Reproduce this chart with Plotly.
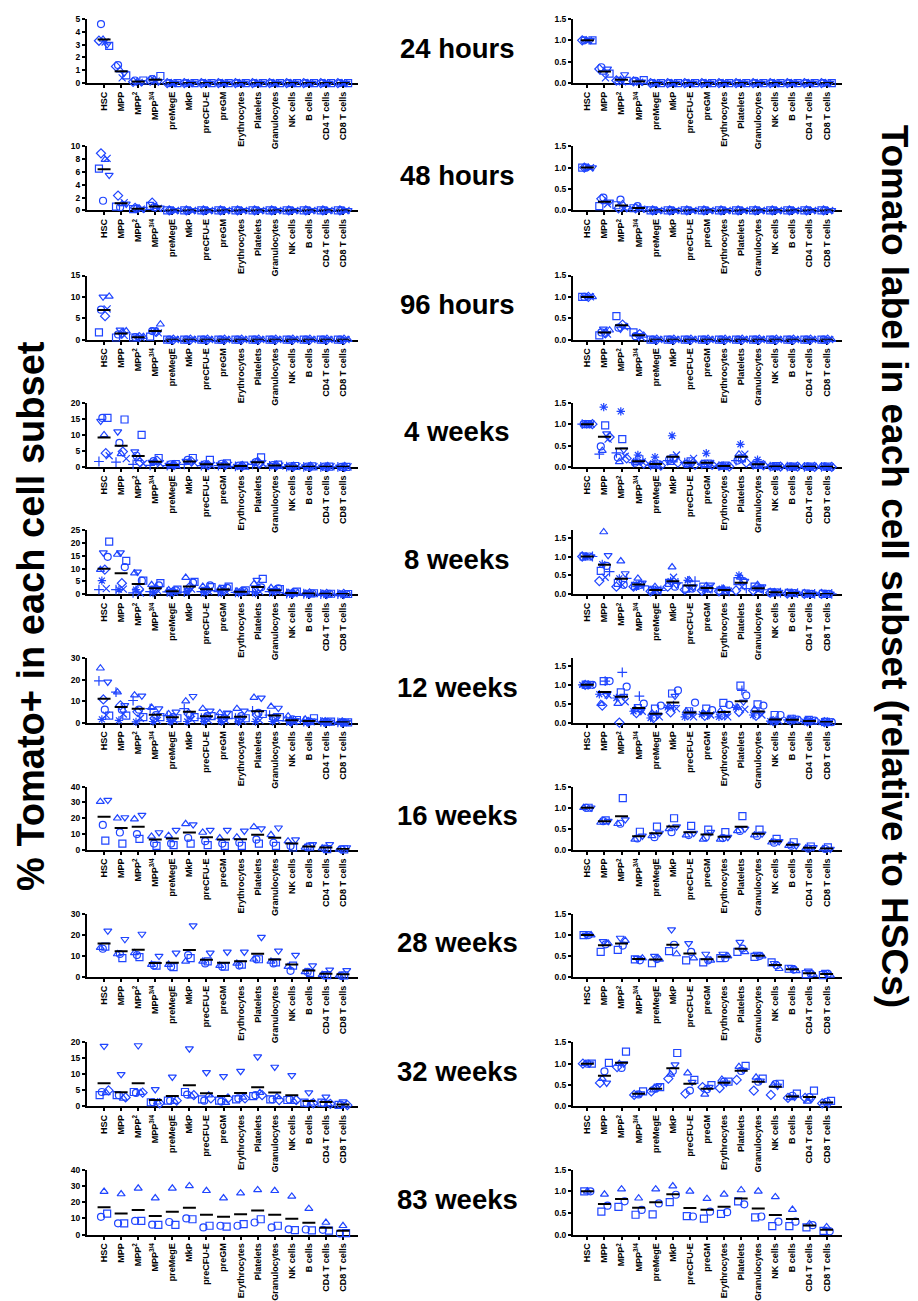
import plotly.graph_objects as go
import numpy as np

# ---------------- data ----------------
categories = ["HSC", "MPP", "MPP<sup>2</sup>", "MPP<sup>3/4</sup>", "preMegE", "MkP", "preCFU-E",
              "preGM", "Erythrocytes", "Platelets", "Granulocytes", "NK cells", "B cells",
              "CD4 T cells", "CD8 T cells"]
timepoints = ["24 hours", "48 hours", "96 hours", "4 weeks", "8 weeks", "12 weeks",
              "16 weeks", "28 weeks", "32 weeks", "83 weeks"]

Z11 = [0] * 11

# % Tomato+ (left column), one list per mouse, values per category
pct_24h = {
    "m5": [3.3, 1.3, 0.1, 0.2] + Z11,
    "m1": [4.6, 1.4, 0.2, 0.3] + Z11,
    "m3": [3.4, 1.0, 0.1, 0.3] + Z11,
    "m6": [3.2, 0.4, 0.05, 0.15] + Z11,
    "m4": [3.0, 0.8, 0.05, 0.1] + Z11,
    "m2": [2.9, 0.6, 0.2, 0.55] + Z11,
}
pct_48h = {
    "m2": [6.5, 0.6, 0.2, 0.7] + Z11,
    "m5": [8.9, 2.3, 0.4, 1.2] + Z11,
    "m1": [1.5, 0.5, 0.3, 0.5] + Z11,
    "m3": [7.9, 1.0, 0.3, 0.6] + Z11,
    "m6": [8.1, 1.2, 0.2, 0.3] + Z11,
    "m4": [5.5, 1.0, 0.2, 0.4] + Z11,
}
pct_96h = {
    "m2": [1.7, 0.5, 0.5, 0.7] + Z11,
    "m1": [7.0, 1.2, 0.6, 2.0] + Z11,
    "m4": [10.0, 2.3, 0.5, 2.3] + Z11,
    "m5": [5.5, 1.5, 0.6, 1.8] + Z11,
    "m6": [7.2, 1.0, 0.5, 1.6] + Z11,
    "m3": [10.1, 2.0, 0.7, 3.6] + Z11,
}
pct_4w = {
    "m7": [1.7, 1.5, 0.8, 0.5, 0.4, 0.8, 0.4, 0.4, 0.2, 0.8, 0.3, 0.1, 0.05, 0.02, 0.02],
    "m4": [14.3, 11.0, 4.8, 1.5, 0.6, 1.8, 0.7, 0.7, 0.3, 1.2, 0.5, 0.2, 0.1, 0.05, 0.05],
    "m1": [15.3, 7.5, 3.5, 1.8, 0.8, 2.2, 0.8, 1.0, 0.4, 1.5, 0.6, 0.2, 0.1, 0.1, 0.05],
    "m3": [10.0, 4.1, 2.5, 1.5, 0.7, 1.5, 0.9, 0.8, 0.3, 2.0, 0.5, 0.2, 0.1, 0.1, 0.05],
    "m5": [4.3, 4.8, 1.5, 2.0, 0.6, 1.8, 0.6, 0.6, 0.3, 1.0, 0.4, 0.1, 0.1, 0.05, 0.02],
    "m2": [15.3, 14.8, 10.0, 2.8, 0.9, 2.8, 2.2, 1.1, 0.4, 3.0, 0.7, 0.3, 0.2, 0.1, 0.05],
    "m6": [3.5, 2.6, 1.0, 1.0, 0.5, 1.2, 0.5, 0.5, 0.2, 1.0, 0.3, 0.1, 0.05, 0.05, 0.02],
}
pct_8w = {
    "m7": [1.8, 1.8, 0.5, 1.0, 0.9, 0.8, 1.0, 1.0, 0.7, 1.0, 1.0, 0.3, 0.2, 0.1, 0.05],
    "m3": [9.6, 15.5, 8.2, 3.7, 1.7, 6.5, 3.0, 2.2, 1.2, 4.0, 2.5, 0.6, 0.3, 0.2, 0.1],
    "m8": [5.3, 1.8, 1.8, 0.5, 0.5, 1.0, 0.6, 0.5, 0.5, 0.5, 0.8, 0.2, 0.1, 0.1, 0.05],
    "m4": [16.2, 16.2, 8.7, 2.5, 1.2, 1.5, 2.0, 2.8, 1.0, 5.5, 1.5, 0.5, 0.3, 0.2, 0.1],
    "m5": [9.6, 4.3, 2.0, 2.0, 1.0, 3.0, 1.5, 1.5, 1.0, 2.2, 1.5, 0.4, 0.3, 0.1, 0.1],
    "m6": [2.2, 2.0, 0.5, 1.5, 0.8, 2.0, 1.2, 1.2, 0.8, 1.0, 1.2, 0.3, 0.2, 0.1, 0.05],
    "m1": [14.6, 10.6, 5.3, 3.5, 1.5, 4.5, 3.5, 2.5, 1.2, 2.7, 2.3, 0.8, 0.3, 0.2, 0.1],
    "m2": [20.5, 13.0, 5.3, 4.3, 1.8, 4.8, 2.8, 3.0, 1.5, 6.0, 2.0, 1.0, 0.4, 0.2, 0.1],
}
pct_12w = {
    "m7": [19.5, 14.2, 10.3, 6.5, 3.2, 6.5, 2.0, 2.0, 2.0, 5.5, 3.5, 0.8, 0.5, 0.3, 0.1],
    "m3": [25.4, 14.2, 12.8, 7.0, 4.0, 10.0, 6.5, 4.5, 6.5, 11.7, 7.5, 3.0, 1.5, 0.5, 0.2],
    "m8": [1.5, 1.0, 0.3, 0.5, 0.5, 0.5, 0.5, 0.5, 0.3, 0.5, 0.5, 0.3, 0.2, 0.1, 0.05],
    "m5": [10.8, 8.0, 5.0, 2.0, 1.5, 4.0, 2.0, 1.5, 1.5, 3.5, 2.0, 0.5, 0.3, 0.2, 0.1],
    "m1": [6.0, 6.0, 6.0, 3.5, 2.5, 3.5, 3.0, 2.0, 3.0, 4.5, 2.5, 1.5, 0.5, 0.3, 0.1],
    "m6": [3.5, 4.0, 2.0, 1.0, 1.0, 1.5, 1.0, 1.0, 0.8, 1.0, 1.0, 0.5, 0.3, 0.2, 0.1],
    "m4": [19.0, 8.0, 12.5, 6.5, 5.0, 12.3, 5.5, 4.5, 5.5, 11.5, 6.8, 1.0, 0.8, 0.3, 0.1],
    "m2": [3.2, 3.2, 2.5, 2.5, 2.0, 2.5, 3.0, 3.5, 2.0, 4.0, 2.5, 1.2, 2.0, 0.4, 0.1],
}
pct_16w = {
    "m3": [30.5, 20.0, 19.5, 8.5, 9.0, 16.5, 11.0, 7.5, 8.0, 14.5, 9.5, 5.5, 1.5, 1.0, 0.3],
    "m1": [15.8, 11.0, 10.0, 4.0, 4.0, 7.5, 5.5, 4.0, 4.5, 6.5, 4.5, 2.5, 1.5, 0.8, 0.3],
    "m2": [5.8, 4.0, 7.0, 2.5, 3.0, 4.0, 3.0, 2.5, 2.5, 4.0, 2.5, 1.5, 2.0, 0.5, 0.3],
    "m4": [31.5, 20.5, 22.0, 11.0, 12.5, 16.0, 12.5, 12.5, 12.0, 13.5, 14.0, 6.5, 3.5, 3.5, 1.5],
}
pct_28w = {
    "m3": [14.0, 11.0, 11.5, 6.0, 6.0, 7.5, 7.5, 5.5, 6.5, 8.5, 7.5, 5.0, 2.5, 1.2, 0.8],
    "m1": [13.5, 11.0, 10.5, 5.5, 5.0, 10.5, 6.5, 5.0, 5.5, 8.5, 6.5, 3.0, 2.5, 0.8, 0.5],
    "m2": [14.5, 9.0, 9.5, 5.5, 4.8, 9.0, 7.5, 5.0, 6.0, 8.5, 7.0, 5.5, 2.0, 1.0, 0.8],
    "m4": [22.0, 18.0, 20.5, 10.0, 11.5, 24.5, 11.5, 12.0, 12.0, 19.0, 12.5, 10.5, 5.5, 3.5, 3.2],
}
pct_32w = {
    "m2": [3.5, 3.5, 4.5, 1.3, 1.8, 4.5, 2.2, 1.8, 2.2, 3.2, 2.2, 2.0, 1.2, 1.2, 0.5],
    "m1": [4.5, 3.5, 4.2, 1.3, 1.8, 3.7, 1.8, 1.5, 2.5, 3.5, 2.2, 2.2, 1.0, 1.0, 0.5],
    "m4": [18.8, 10.0, 19.0, 5.3, 9.2, 18.0, 10.6, 9.4, 11.0, 15.5, 12.3, 9.7, 4.3, 3.0, 1.5],
    "m3": [4.2, 2.5, 4.3, 1.3, 1.5, 3.2, 3.5, 1.2, 2.8, 4.3, 3.0, 1.5, 1.0, 0.8, 0.3],
    "m5": [5.0, 2.8, 4.3, 1.0, 1.8, 3.5, 2.5, 2.5, 2.5, 3.5, 2.0, 2.0, 1.0, 0.8, 0.4],
}
pct_83w = {
    "m1": [11.0, 7.0, 8.5, 6.2, 7.8, 10.0, 4.5, 5.5, 5.5, 7.5, 4.5, 3.3, 3.2, 3.0, 0.8],
    "m3": [26.5, 25.0, 28.5, 22.5, 28.5, 30.0, 27.0, 22.5, 25.5, 27.5, 27.0, 23.5, 16.0, 7.5, 5.5],
    "m2": [13.0, 7.0, 8.5, 6.0, 6.0, 9.5, 5.5, 5.0, 6.5, 9.5, 5.5, 2.8, 2.7, 2.5, 1.0],
}

# Tomato label relative to HSCs (right column)
rel_24h = {
    "m5": [1, 0.33, 0.06, 0.04] + Z11,
    "m1": [1, 0.37, 0.05, 0.05] + Z11,
    "m3": [1, 0.25, 0.08, 0.03] + Z11,
    "m6": [1, 0.12, 0.03, 0.02] + Z11,
    "m4": [1, 0.33, 0.2, 0.03] + Z11,
    "m2": [1, 0.22, 0.05, 0.07] + Z11,
}
rel_48h = {
    "m2": [1, 0.1, 0.12, 0.05] + Z11,
    "m5": [1, 0.27, 0.05, 0.05] + Z11,
    "m1": [1, 0.3, 0.25, 0.1] + Z11,
    "m3": [1, 0.2, 0.15, 0.05] + Z11,
    "m6": [1, 0.15, 0.05, 0.03] + Z11,
    "m4": [1, 0.2, 0.05, 0.04] + Z11,
}
rel_96h = {
    "m2": [1, 0.1, 0.55, 0.17] + Z11,
    "m1": [1, 0.17, 0.28, 0.08] + Z11,
    "m4": [1, 0.25, 0.25, 0.1] + Z11,
    "m5": [1, 0.15, 0.35, 0.13] + Z11,
    "m6": [1, 0.13, 0.3, 0.05] + Z11,
    "m3": [1, 0.22, 0.3, 0.1] + Z11,
}
rel_4w = {
    "m7": [1, 0.3, 0.33, 0.1, 0.04, 0.15, 0.1, 0.06, 0.02, 0.15, 0.05, 0.01, 0.01, 0.0, 0.0],
    "m1": [1, 0.48, 0.22, 0.1, 0.05, 0.17, 0.07, 0.07, 0.02, 0.15, 0.05, 0.01, 0.01, 0.01, 0.01],
    "m3": [1, 0.38, 0.12, 0.1, 0.05, 0.1, 0.05, 0.05, 0.02, 0.3, 0.04, 0.01, 0.01, 0.01, 0.01],
    "m8": [1, 1.4, 1.3, 0.28, 0.23, 0.73, 0.1, 0.32, 0.03, 0.53, 0.17, 0.02, 0.01, 0.01, 0.01],
    "m2": [1, 0.97, 0.65, 0.18, 0.06, 0.2, 0.13, 0.08, 0.03, 0.2, 0.05, 0.02, 0.01, 0.01, 0.01],
    "m4": [1, 0.78, 0.4, 0.12, 0.05, 0.2, 0.08, 0.06, 0.02, 0.2, 0.05, 0.01, 0.01, 0.01, 0.01],
    "m6": [1, 0.65, 0.25, 0.12, 0.05, 0.28, 0.2, 0.08, 0.02, 0.3, 0.06, 0.01, 0.01, 0.01, 0.0],
    "m5": [1, 0.7, 0.2, 0.08, 0.03, 0.1, 0.05, 0.05, 0.01, 0.1, 0.04, 0.01, 0.01, 0.0, 0.0],
}
rel_8w = {
    "m5": [1, 0.35, 0.2, 0.2, 0.08, 0.2, 0.12, 0.1, 0.08, 0.1, 0.1, 0.04, 0.02, 0.01, 0.01],
    "m2": [1, 0.62, 0.3, 0.22, 0.12, 0.3, 0.15, 0.2, 0.1, 0.35, 0.2, 0.05, 0.04, 0.02, 0.01],
    "m8": [1, 0.8, 0.42, 0.2, 0.1, 0.35, 0.37, 0.12, 0.15, 0.5, 0.15, 0.05, 0.03, 0.01, 0.01],
    "m3": [1, 1.65, 0.88, 0.42, 0.2, 0.72, 0.38, 0.22, 0.15, 0.45, 0.25, 0.06, 0.04, 0.01, 0.01],
    "m6": [1, 0.45, 0.25, 0.25, 0.1, 0.45, 0.15, 0.12, 0.1, 0.2, 0.12, 0.05, 0.03, 0.01, 0.01],
    "m1": [1, 0.75, 0.25, 0.25, 0.1, 0.2, 0.15, 0.15, 0.1, 0.35, 0.15, 0.05, 0.03, 0.01, 0.01],
    "m4": [1, 1.03, 0.55, 0.3, 0.12, 0.25, 0.2, 0.25, 0.12, 0.35, 0.2, 0.06, 0.03, 0.01, 0.01],
    "m7": [1, 0.6, 0.42, 0.22, 0.1, 0.3, 0.35, 0.15, 0.08, 0.15, 0.12, 0.04, 0.03, 0.01, 0.01],
}
rel_12w = {
    "m8": [1, 0.75, 0.65, 0.3, 0.12, 0.4, 0.15, 0.22, 0.15, 0.4, 0.2, 0.04, 0.07, 0.03, 0.01],
    "m3": [1, 0.5, 0.5, 0.35, 0.25, 0.42, 0.3, 0.25, 0.3, 0.4, 0.35, 0.05, 0.08, 0.05, 0.01],
    "m5": [1, 0.45, 0.0, 0.25, 0.12, 0.27, 0.2, 0.18, 0.2, 0.28, 0.18, 0.04, 0.06, 0.03, 0.01],
    "m2": [1, 1.1, 0.8, 0.38, 0.37, 0.77, 0.3, 0.37, 0.52, 0.98, 0.48, 0.2, 0.1, 0.07, 0.02],
    "m7": [1, 1.1, 1.33, 0.7, 0.2, 0.45, 0.25, 0.2, 0.2, 0.85, 0.25, 0.05, 0.08, 0.04, 0.01],
    "m4": [1, 0.72, 0.7, 0.3, 0.2, 0.7, 0.25, 0.2, 0.25, 0.55, 0.25, 0.05, 0.07, 0.04, 0.01],
    "m6": [1, 0.73, 0.55, 0.3, 0.15, 0.37, 0.15, 0.2, 0.15, 0.35, 0.2, 0.04, 0.07, 0.04, 0.01],
    "m1": [1, 1.1, 0.95, 0.5, 0.45, 0.85, 0.53, 0.33, 0.47, 0.72, 0.45, 0.2, 0.08, 0.05, 0.01],
}
rel_16w = {
    "m3": [1, 0.65, 0.62, 0.25, 0.33, 0.5, 0.35, 0.25, 0.25, 0.45, 0.35, 0.18, 0.1, 0.04, 0.02],
    "m1": [1, 0.68, 0.62, 0.27, 0.3, 0.42, 0.35, 0.3, 0.28, 0.45, 0.33, 0.17, 0.1, 0.03, 0.02],
    "m2": [1, 0.7, 1.23, 0.43, 0.55, 0.75, 0.57, 0.48, 0.42, 0.8, 0.48, 0.26, 0.18, 0.08, 0.06],
    "m4": [1, 0.68, 0.72, 0.33, 0.4, 0.55, 0.4, 0.42, 0.3, 0.5, 0.38, 0.2, 0.1, 0.06, 0.02],
}
rel_28w = {
    "m2": [1, 0.6, 0.65, 0.42, 0.33, 0.62, 0.4, 0.35, 0.45, 0.6, 0.48, 0.35, 0.2, 0.07, 0.05],
    "m4": [1, 0.85, 0.93, 0.45, 0.5, 1.13, 0.8, 0.55, 0.55, 0.83, 0.55, 0.33, 0.23, 0.15, 0.12],
    "m1": [1, 0.78, 0.75, 0.4, 0.43, 0.77, 0.6, 0.4, 0.45, 0.68, 0.5, 0.28, 0.18, 0.08, 0.08],
    "m3": [1, 0.8, 0.87, 0.45, 0.42, 0.55, 0.45, 0.4, 0.5, 0.6, 0.5, 0.2, 0.15, 0.06, 0.04],
}
rel_32w = {
    "m5": [1, 0.55, 0.92, 0.27, 0.35, 0.65, 0.3, 0.45, 0.43, 0.62, 0.37, 0.27, 0.2, 0.2, 0.07],
    "m3": [1, 0.65, 1.0, 0.27, 0.38, 0.75, 0.78, 0.28, 0.63, 0.93, 0.68, 0.5, 0.2, 0.12, 0.08],
    "m1": [1, 0.82, 0.9, 0.28, 0.42, 0.83, 0.37, 0.4, 0.58, 0.83, 0.58, 0.52, 0.25, 0.22, 0.11],
    "m4": [1, 0.55, 1.0, 0.3, 0.48, 0.98, 0.57, 0.45, 0.55, 0.85, 0.6, 0.48, 0.22, 0.18, 0.06],
    "m2": [1, 1.02, 1.28, 0.35, 0.45, 1.25, 0.62, 0.5, 0.58, 0.95, 0.65, 0.53, 0.3, 0.37, 0.13],
}
rel_83w = {
    "m2": [1, 0.53, 0.64, 0.46, 0.47, 0.75, 0.43, 0.37, 0.48, 0.77, 0.4, 0.2, 0.2, 0.17, 0.09],
    "m3": [1, 0.93, 1.05, 0.84, 1.05, 1.12, 1.0, 0.83, 0.93, 1.03, 1.0, 0.87, 0.58, 0.25, 0.18],
    "m1": [1, 0.67, 0.77, 0.57, 0.72, 0.92, 0.42, 0.53, 0.52, 0.7, 0.42, 0.3, 0.3, 0.22, 0.08],
}

left_panels = [pct_24h, pct_48h, pct_96h, pct_4w, pct_8w, pct_12w, pct_16w, pct_28w, pct_32w, pct_83w]
right_panels = [rel_24h, rel_48h, rel_96h, rel_4w, rel_8w, rel_12w, rel_16w, rel_28w, rel_32w, rel_83w]

left_ymax = [5, 10, 15, 20, 25, 30, 40, 30, 20, 40]
left_ytick_step = [1, 2, 5, 5, 5, 10, 10, 10, 5, 10]
right_ymax = [1.5, 1.5, 1.5, 1.5, 1.7, 1.7, 1.5, 1.5, 1.5, 1.5]
right_yticks = [0, 0.5, 1.0, 1.5]

# ---------------- style ----------------
PAGE_OFF = 8                     # default body margin of the html page
W, H = 918 - PAGE_OFF, 1301 - PAGE_OFF
BLUE = "#1f45ff"
FONT = "Liberation Sans, Arial, Helvetica, sans-serif"
MOUSE_SYMBOL = {"m1": "circle-open", "m2": "square-open", "m3": "triangle-up-open",
                "m4": "triangle-down-open", "m5": "diamond-open", "m6": "x-thin-open",
                "m7": "cross-thin-open", "m8": "asterisk-open"}
# positions in page pixels
row_top = [14, 143, 274, 403, 532, 662, 792, 921, 1051, 1180]
row_bot = [79, 208, 339, 468, 597, 727, 856, 985, 1116, 1246]
col_x = [(87, 358), (573, 842)]
col_xrange = [[-1.0, 14.88], [-0.84, 14.9]]
SPREAD = {3: 0.18, 4: 0.22, 5: 0.26}


def px(xp):
    return (xp - PAGE_OFF) / W


def py(yp):
    return 1 - (yp - PAGE_OFF) / H


fig = go.Figure()
layout = dict(width=W, height=H, margin=dict(l=0, r=0, t=0, b=0),
              paper_bgcolor="white", plot_bgcolor="white", showlegend=False,
              font=dict(family=FONT, color="black"))
annotations = []

xcat = np.arange(len(categories))
k = 0
for r in range(10):
    for c in range(2):
        k += 1
        panel = left_panels[r] if c == 0 else right_panels[r]
        n = len(panel)
        w = SPREAD.get(n, 0.3)
        offs = np.linspace(-w, w, n) if n > 1 else [0]
        xa, ya = f"x{k}", f"y{k}"
        for (mouse, vals), off in zip(panel.items(), offs):
            fig.add_trace(go.Scatter(
                x=xcat + off, y=vals, mode="markers", xaxis=xa, yaxis=ya,
                cliponaxis=False, hoverinfo="skip",
                marker=dict(symbol=MOUSE_SYMBOL[mouse], size=7, color=BLUE,
                            line=dict(color=BLUE, width=1.2))))
        arr = np.array(list(panel.values()), dtype=float)
        means = arr.mean(axis=0)
        lx, ly = [], []
        for i, m in enumerate(means):
            lx += [i - 0.38, i + 0.38, None]
            ly += [m, m, None]
        fig.add_trace(go.Scatter(x=lx, y=ly, mode="lines", xaxis=xa, yaxis=ya,
                                 cliponaxis=False, hoverinfo="skip",
                                 line=dict(color="black", width=2)))
        x0, x1 = col_x[c]
        dom_x = [px(x0), px(x1)]
        dom_y = [py(row_bot[r]), py(row_top[r])]
        if c == 0:
            ymax = left_ymax[r]
            yt = list(np.arange(0, ymax + 1e-9, left_ytick_step[r]))
            ytxt = [f"{v:g}" for v in yt]
        else:
            ymax = right_ymax[r]
            yt = right_yticks
            ytxt = [f"{v:.1f}" for v in yt]
        sfx = "" if k == 1 else str(k)
        layout["xaxis" + sfx] = dict(
            domain=dom_x, anchor=ya, range=col_xrange[c], tickmode="array",
            tickvals=list(xcat), ticktext=categories, tickangle=-90,
            tickfont=dict(size=9, family=FONT, weight="bold", color="black"),
            showline=True, linecolor="black", linewidth=2, ticks="outside",
            ticklen=3, tickwidth=1.5, tickcolor="black", showgrid=False,
            zeroline=False, layer="below traces", fixedrange=True)
        layout["yaxis" + sfx] = dict(
            domain=dom_y, anchor=xa, range=[0, ymax], tickmode="array",
            tickvals=yt, ticktext=ytxt,
            tickfont=dict(size=8.5, family=FONT, weight="bold", color="black"),
            showline=True, linecolor="black", linewidth=2, ticks="outside",
            ticklen=3, tickwidth=1.5, tickcolor="black", showgrid=False,
            zeroline=False, layer="below traces", fixedrange=True)
    annotations.append(dict(
        text=timepoints[r], x=px(457), y=py((row_top[r] + row_bot[r]) / 2 - 3),
        xref="paper", yref="paper", xanchor="center", yanchor="middle",
        showarrow=False, font=dict(size=27.5, family=FONT, weight="bold", color="black")))

annotations.append(dict(
    text="% Tomato+ in each cell subset", x=px(31), y=py(619), xref="paper", yref="paper",
    xanchor="center", yanchor="middle", textangle=-90, showarrow=False,
    font=dict(size=38, family=FONT, weight="bold", color="black")))
annotations.append(dict(
    text="Tomato label in each cell subset (relative to HSCs)", x=px(894), y=py(568),
    xref="paper", yref="paper", xanchor="center", yanchor="middle", textangle=90,
    showarrow=False, font=dict(size=37, family=FONT, weight="bold", color="black")))

layout["annotations"] = annotations
fig.update_layout(**layout)
fig.write_html("out.html")
